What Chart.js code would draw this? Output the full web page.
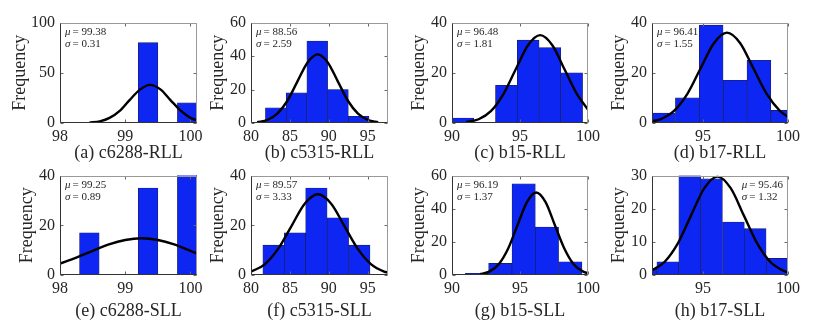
<!DOCTYPE html>
<html>
<head>
<meta charset="utf-8">
<script src="https://cdn.jsdelivr.net/npm/chart.js@4.4.1/dist/chart.umd.min.js"></script>
<style>
  html, body { margin: 0; padding: 0; background: #fff; }
  #wrap { position: relative; width: 831px; height: 331px; overflow: hidden; }
  #wrap canvas { position: absolute; }
</style>
</head>
<body>
<div id="wrap"></div>
<script>
// captions and fit labels
const captions = ['(a) c6288-RLL', '(b) c5315-RLL', '(c) b15-RLL', '(d) b17-RLL',
                  '(e) c6288-SLL', '(f) c5315-SLL', '(g) b15-SLL', '(h) b17-SLL'];
const muText = ['99.38', '88.56', '96.48', '96.41', '99.25', '89.57', '96.19', '95.46'];
const sigmaText = ['0.31', '2.59', '1.81', '1.55', '0.89', '3.33', '1.37', '1.32'];

// histogram bin centres and counts
const binsA = [99.35, 99.65, 99.95];
const countsA = [80, 0, 20];
const binsB = [83.19, 85.85, 88.51, 91.17, 93.83];
const countsB = [9, 18, 49, 20, 4];
const binsC = [90.8, 92.4, 94.0, 95.6, 97.2, 98.8];
const countsC = [2, 0, 15, 33, 30, 20];
const binsD = [92.67, 94.08, 95.48, 96.89, 98.29, 99.70];
const countsD = [4, 10, 39, 17, 25, 5];
const binsE = [98.45, 98.75, 99.05, 99.35, 99.65, 99.95];
const countsE = [17, 0, 0, 35, 0, 48];
const binsF = [82.9, 85.65, 88.4, 91.16, 93.91];
const countsF = [12, 17, 35, 23, 12];
const binsG = [91.84, 93.55, 95.27, 96.98, 98.70];
const countsG = [1, 7, 55, 29, 8];
const binsH = [91.65, 92.93, 94.22, 95.50, 96.79, 98.07, 99.36];
const countsH = [2, 4, 30, 29, 16, 14, 5];

// fitted curves, points
const curveXA = [98.45, 98.61, 98.76, 98.92, 99.07, 99.23, 99.38, 99.54, 99.69, 99.85, 100.0, 100.1];
const curveYA = [0.4, 1.7, 5.1, 12.3, 23.1, 33.5, 38.0, 33.5, 23.1, 12.3, 5.1, 2.6];
const curveXB = [80.79, 82.09, 83.38, 84.68, 85.97, 87.27, 88.56, 89.86, 91.15, 92.45, 93.74, 95.04, 96.33];
const curveYB = [0.5, 1.8, 5.6, 13.3, 24.9, 36.2, 41.0, 36.2, 24.9, 13.3, 5.6, 1.8, 0.5];
const curveXC = [91.05, 91.96, 92.86, 93.77, 94.67, 95.58, 96.48, 97.39, 98.29, 99.2, 100];
const curveYC = [0.4, 1.5, 4.7, 11.4, 21.2, 30.9, 35.0, 30.9, 21.2, 11.4, 5.3];
const curveXD = [92, 92.54, 93.31, 94.09, 94.86, 95.64, 96.41, 97.19, 97.96, 98.74, 99.51, 100];
const curveYD = [0.6, 1.6, 4.9, 11.7, 21.8, 31.8, 36.0, 31.8, 21.8, 11.7, 4.9, 2.5];
const curveXE = [98, 98.25, 98.5, 98.75, 99, 99.25, 99.5, 99.75, 100, 100.1];
const curveYE = [4.6, 7.0, 9.7, 12.3, 14.1, 14.8, 14.1, 12.3, 9.7, 8.6];
const curveXF = [80, 81.8, 83.5, 85.2, 86.9, 88.6, 90.3, 92.0, 93.7, 95.4, 97.1, 97.6];
const curveYF = [1.3, 4.4, 10.6, 19.7, 28.7, 32.5, 28.7, 19.7, 10.6, 4.4, 1.4, 1.0];
const curveXG = [92.08, 92.77, 93.45, 94.14, 94.82, 95.51, 96.19, 96.88, 97.56, 98.25, 98.93, 99.62, 100];
const curveYG = [0.6, 2.2, 6.7, 16.2, 30.2, 44.0, 49.8, 44.0, 30.2, 16.2, 6.7, 2.2, 1.0];
const curveXH = [92, 92.75, 93.53, 94.3, 95.08, 95.85, 96.63, 97.4, 98.18, 98.95, 99.73, 100];
const curveYH = [1.4, 4.0, 9.6, 18.0, 26.2, 29.7, 26.2, 18.0, 9.6, 4.0, 1.3, 0.8];

// axis limits and ticks
const xMins = [98, 80, 90, 92, 98, 80, 90, 92];
const xMaxs = [100.1, 97.6, 100, 100, 100.1, 97.6, 100, 100];
const xTickVals = [[98, 99, 100], [80, 85, 90, 95], [90, 95, 100], [95, 100],
                   [98, 99, 100], [80, 85, 90, 95], [90, 95, 100], [95, 100]];
const yMaxs = [100, 60, 40, 40, 40, 40, 60, 30];
const yTickVals = [[0, 50, 100], [0, 20, 40, 60], [0, 20, 40], [0, 20, 40],
                   [0, 20, 40], [0, 20, 40], [0, 20, 40, 60], [0, 10, 20, 30]];

const allBins = [binsA, binsB, binsC, binsD, binsE, binsF, binsG, binsH];
const allCounts = [countsA, countsB, countsC, countsD, countsE, countsF, countsG, countsH];
const allCurveX = [curveXA, curveXB, curveXC, curveXD, curveXE, curveXF, curveXG, curveXH];
const allCurveY = [curveYA, curveYB, curveYC, curveYD, curveYE, curveYF, curveYG, curveYH];

// page layout of the 2x4 grid
const colLeft = [60, 251, 452, 652];
const colWidth = [137, 137, 136, 136];
const rowTop = [20, 173];
const rowHeight = [103, 102];
const rowXH = [41, 47];
const PAD_TOP = 12, PAD_RIGHT = 16;

const SERIF = '"Liberation Serif", "Times New Roman", serif';
const TEXT = '#262626';
Chart.defaults.font.family = SERIF;

const framePlugin = {
  id: 'frame',
  afterDatasetsDraw(chart) {
    const { ctx, chartArea: a, scales: { x, y } } = chart;
    const L = Math.round(a.left) + 0.5, R = Math.round(a.right) - 0.5;
    const T = Math.round(a.top) + 0.5, B = Math.round(a.bottom) - 0.5;
    ctx.save();
    ctx.lineWidth = 1;
    ctx.strokeStyle = '#666';
    ctx.beginPath();
    x.ticks.forEach(t => {
      const px = Math.round(x.getPixelForValue(t.value)) + 0.5;
      ctx.moveTo(px, B); ctx.lineTo(px, B - 3);
      ctx.moveTo(px, T); ctx.lineTo(px, T + 3);
    });
    y.ticks.forEach(t => {
      const py = Math.round(y.getPixelForValue(t.value)) + 0.5;
      ctx.moveTo(L, py); ctx.lineTo(L + 3, py);
      ctx.moveTo(R, py); ctx.lineTo(R - 3, py);
    });
    ctx.stroke();
    ctx.strokeStyle = '#999';
    ctx.beginPath();
    ctx.moveTo(L, T); ctx.lineTo(R, T); ctx.lineTo(R, B);
    ctx.stroke();
    ctx.strokeStyle = '#333';
    ctx.beginPath();
    ctx.moveTo(L, T); ctx.lineTo(L, B); ctx.lineTo(R, B);
    ctx.stroke();
    ctx.restore();
  }
};

const statsPlugin = {
  id: 'stats',
  afterDraw(chart, args, o) {
    const { ctx, chartArea: a } = chart;
    const rows = [['\u03bc', o.mu], ['\u03c3', o.sigma]];
    ctx.save();
    ctx.fillStyle = TEXT;
    ctx.textBaseline = 'middle';
    ctx.font = '11px ' + SERIF;
    const wMax = Math.max(...rows.map(r => ctx.measureText('= ' + r[1]).width));
    const x0 = o.align === 'right' ? a.right - 5 - wMax - 7.5 : a.left + 5;
    rows.forEach((r, i) => {
      const yy = a.top + 10 + i * 11.5;
      ctx.font = 'italic 11px ' + SERIF;
      ctx.fillText(r[0], x0, yy);
      ctx.font = '11px ' + SERIF;
      ctx.fillText('= ' + r[1], x0 + 7.5, yy);
    });
    ctx.restore();
  }
};

const wrap = document.getElementById('wrap');

captions.forEach((cap, i) => {
  const row = Math.floor(i / 4), col = i % 4;
  const yw = i === 0 ? 51 : 44;
  const xh = rowXH[row];
  const cw = yw + colWidth[col] + PAD_RIGHT;
  const ch = PAD_TOP + rowHeight[row] + xh;
  const canvas = document.createElement('canvas');
  canvas.width = cw; canvas.height = ch;
  canvas.style.left = (colLeft[col] - yw) + 'px';
  canvas.style.top = (rowTop[row] - PAD_TOP) + 'px';
  wrap.appendChild(canvas);

  new Chart(canvas.getContext('2d'), {
    type: 'bar',
    data: {
      datasets: [{
        type: 'line',
        data: allCurveX[i].map((v, k) => ({ x: v, y: allCurveY[i][k] })),
        borderColor: '#000',
        borderWidth: 2.4,
        pointRadius: 0,
        cubicInterpolationMode: 'monotone',
        fill: false,
        clip: 0,
        order: 0
      }, {
        type: 'bar',
        data: allBins[i].map((v, k) => ({ x: v, y: allCounts[i][k] })),
        backgroundColor: '#0d26f2',
        borderColor: '#1a1a50',
        borderWidth: 0.6,
        barPercentage: 1,
        categoryPercentage: 1,
        clip: 0,
        order: 1
      }]
    },
    options: {
      responsive: false,
      animation: false,
      events: [],
      layout: { padding: { top: PAD_TOP, right: PAD_RIGHT, left: 0, bottom: 0 } },
      scales: {
        x: {
          type: 'linear',
          min: xMins[i],
          max: xMaxs[i],
          offset: false,
          grid: { display: false, drawTicks: false, offset: false },
          border: { display: false },
          ticks: { font: { size: 16 }, color: TEXT, padding: 4, maxRotation: 0, autoSkip: false },
          afterBuildTicks: s => { s.ticks = xTickVals[i].map(v => ({ value: v })); },
          afterFit: s => { s.height = xh; },
          title: { display: true, text: cap, color: TEXT, font: { size: 18 }, padding: 0 }
        },
        y: {
          min: 0,
          max: yMaxs[i],
          grid: { display: false, drawTicks: false },
          border: { display: false },
          ticks: { font: { size: 16 }, color: TEXT, padding: 5 },
          afterBuildTicks: s => { s.ticks = yTickVals[i].map(v => ({ value: v })); },
          afterFit: s => { s.width = yw; },
          title: { display: true, text: 'Frequency', color: TEXT, font: { size: 18 }, padding: 0 }
        }
      },
      plugins: {
        legend: { display: false },
        tooltip: { enabled: false },
        stats: { mu: muText[i], sigma: sigmaText[i], align: i === 7 ? 'right' : 'left' }
      }
    },
    plugins: [framePlugin, statsPlugin]
  });
});
</script>
</body>
</html>
